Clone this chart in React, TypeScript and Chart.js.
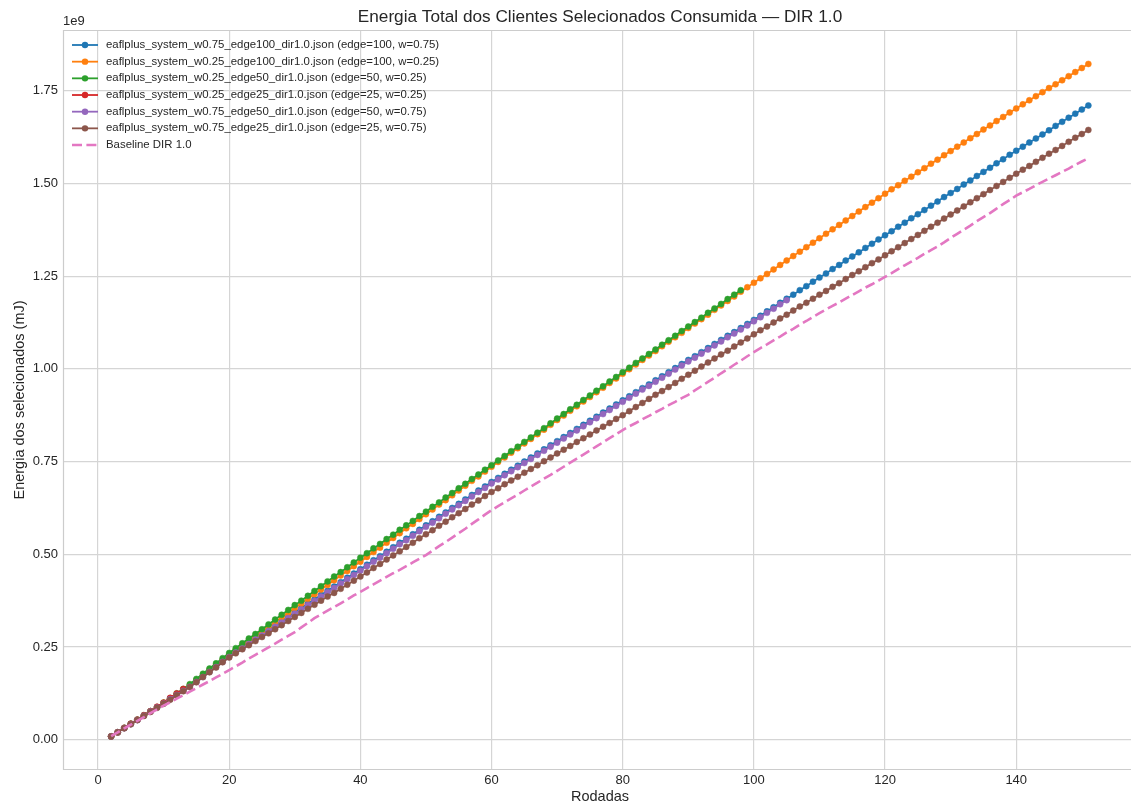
import React, { useEffect, useRef } from "react";
import { Chart, registerables } from "chart.js";

Chart.register(...registerables);

// ---------------- data (energy in units of 1e9 mJ) ----------------
const FIRST_ROUND = 2;

const X_TICKS = [0, 20, 40, 60, 80, 100, 120, 140];
const Y_TICKS = [0, 0.25, 0.5, 0.75, 1.0, 1.25, 1.5, 1.75];

const TITLE = "Energia Total dos Clientes Selecionados Consumida — DIR 1.0";
const X_LABEL = "Rodadas";
const Y_LABEL = "Energia dos selecionados (mJ)";
const OFFSET_LABEL = "1e9";

const SERIES_NAMES = [
  "eaflplus_system_w0.75_edge100_dir1.0.json (edge=100, w=0.75)",
  "eaflplus_system_w0.25_edge100_dir1.0.json (edge=100, w=0.25)",
  "eaflplus_system_w0.25_edge50_dir1.0.json (edge=50, w=0.25)",
  "eaflplus_system_w0.25_edge25_dir1.0.json (edge=25, w=0.25)",
  "eaflplus_system_w0.75_edge50_dir1.0.json (edge=50, w=0.75)",
  "eaflplus_system_w0.75_edge25_dir1.0.json (edge=25, w=0.75)",
  "Baseline DIR 1.0",
];

// w0.75 edge100 (rounds 2..151)
const w075_edge100 = [
  0.009, 0.020, 0.032, 0.043, 0.054, 0.066, 0.077, 0.088, 0.099,
  0.111, 0.122, 0.134, 0.146, 0.160, 0.173, 0.187, 0.200, 0.214, 0.227,
  0.239, 0.250, 0.262, 0.274, 0.285, 0.297, 0.309, 0.320, 0.332, 0.344,
  0.355, 0.367, 0.378, 0.390, 0.402, 0.413, 0.425, 0.437, 0.448, 0.460,
  0.472, 0.484, 0.495, 0.507, 0.519, 0.531, 0.542, 0.554, 0.566, 0.578,
  0.589, 0.601, 0.613, 0.625, 0.636, 0.648, 0.660, 0.672, 0.683, 0.695,
  0.706, 0.717, 0.728, 0.739, 0.750, 0.761, 0.772, 0.783, 0.794, 0.805,
  0.816, 0.827, 0.838, 0.849, 0.860, 0.871, 0.882, 0.893, 0.904, 0.915,
  0.926, 0.937, 0.948, 0.958, 0.969, 0.980, 0.991, 1.002, 1.013, 1.024,
  1.034, 1.045, 1.056, 1.067, 1.078, 1.089, 1.099, 1.110, 1.121, 1.132,
  1.143, 1.155, 1.166, 1.178, 1.189, 1.200, 1.212, 1.223, 1.235, 1.246,
  1.257, 1.269, 1.280, 1.292, 1.303, 1.314, 1.326, 1.337, 1.349, 1.360,
  1.371, 1.383, 1.394, 1.406, 1.417, 1.428, 1.440, 1.451, 1.463, 1.474,
  1.485, 1.497, 1.508, 1.520, 1.531, 1.542, 1.554, 1.565, 1.577, 1.588,
  1.599, 1.610, 1.621, 1.632, 1.643, 1.655, 1.666, 1.677, 1.688, 1.699, 1.710,
];

// w0.25 edge100 (rounds 2..151)
const w025_edge100 = [
  0.009, 0.020, 0.032, 0.043, 0.054, 0.066, 0.077, 0.088, 0.100,
  0.111, 0.123, 0.135, 0.148, 0.161, 0.175, 0.188, 0.202, 0.215, 0.229,
  0.242, 0.254, 0.267, 0.279, 0.292, 0.304, 0.317, 0.330, 0.342, 0.355,
  0.367, 0.380, 0.392, 0.405, 0.417, 0.430, 0.443, 0.455, 0.468, 0.480,
  0.493, 0.506, 0.518, 0.531, 0.544, 0.557, 0.570, 0.582, 0.595, 0.608,
  0.621, 0.634, 0.646, 0.659, 0.672, 0.685, 0.698, 0.710, 0.723, 0.736,
  0.749, 0.761, 0.774, 0.786, 0.799, 0.811, 0.824, 0.836, 0.849, 0.862,
  0.874, 0.887, 0.899, 0.912, 0.924, 0.937, 0.949, 0.962, 0.974, 0.987,
  0.999, 1.012, 1.024, 1.036, 1.048, 1.061, 1.073, 1.085, 1.097, 1.110,
  1.122, 1.134, 1.146, 1.159, 1.171, 1.183, 1.195, 1.208, 1.220, 1.232,
  1.244, 1.256, 1.268, 1.280, 1.292, 1.304, 1.316, 1.328, 1.340, 1.352,
  1.364, 1.376, 1.388, 1.400, 1.412, 1.424, 1.436, 1.448, 1.460, 1.472,
  1.484, 1.495, 1.507, 1.518, 1.530, 1.541, 1.553, 1.564, 1.576, 1.587,
  1.599, 1.610, 1.622, 1.633, 1.645, 1.656, 1.668, 1.679, 1.691, 1.702,
  1.713, 1.724, 1.735, 1.746, 1.757, 1.767, 1.778, 1.789, 1.800, 1.811, 1.822,
];

// w0.25 edge50 (rounds 2..98)
const w025_edge50 = [
  0.009, 0.020, 0.032, 0.043, 0.054, 0.066, 0.077, 0.088, 0.100,
  0.112, 0.125, 0.137, 0.150, 0.164, 0.178, 0.192, 0.206, 0.220, 0.234,
  0.247, 0.260, 0.273, 0.285, 0.298, 0.311, 0.324, 0.337, 0.350, 0.363,
  0.375, 0.388, 0.401, 0.414, 0.427, 0.440, 0.452, 0.465, 0.478, 0.491,
  0.503, 0.516, 0.528, 0.541, 0.553, 0.566, 0.578, 0.590, 0.603, 0.615,
  0.628, 0.640, 0.653, 0.665, 0.678, 0.690, 0.703, 0.715, 0.728, 0.740,
  0.753, 0.765, 0.778, 0.790, 0.803, 0.815, 0.828, 0.840, 0.853, 0.866,
  0.878, 0.891, 0.903, 0.916, 0.928, 0.941, 0.953, 0.966, 0.978, 0.991,
  1.003, 1.016, 1.028, 1.040, 1.052, 1.065, 1.077, 1.089, 1.102, 1.114,
  1.126, 1.138, 1.151, 1.163, 1.175, 1.188, 1.200, 1.212,
];

// w0.25 edge25 (rounds 2..13)
const w025_edge25 = [
  0.009, 0.020, 0.032, 0.043, 0.054, 0.066, 0.077, 0.089, 0.100,
  0.113, 0.125, 0.137,
];

// w0.75 edge50 (rounds 2..105)
const w075_edge50 = [
  0.009, 0.020, 0.031, 0.042, 0.053, 0.065, 0.076, 0.087, 0.098,
  0.110, 0.121, 0.132, 0.143, 0.156, 0.169, 0.183, 0.196, 0.210, 0.223,
  0.235, 0.246, 0.258, 0.270, 0.281, 0.293, 0.305, 0.316, 0.328, 0.340,
  0.351, 0.363, 0.374, 0.386, 0.398, 0.409, 0.421, 0.433, 0.444, 0.456,
  0.468, 0.480, 0.491, 0.503, 0.515, 0.527, 0.538, 0.550, 0.562, 0.574,
  0.585, 0.597, 0.609, 0.621, 0.632, 0.644, 0.656, 0.668, 0.679, 0.691,
  0.702, 0.713, 0.724, 0.735, 0.746, 0.757, 0.768, 0.779, 0.790, 0.801,
  0.812, 0.823, 0.834, 0.845, 0.856, 0.867, 0.878, 0.889, 0.900, 0.911,
  0.922, 0.933, 0.944, 0.954, 0.965, 0.976, 0.987, 0.998, 1.009, 1.020,
  1.030, 1.041, 1.052, 1.063, 1.074, 1.085, 1.095, 1.106, 1.117, 1.128,
  1.139, 1.151, 1.162, 1.174, 1.185,
];

// w0.75 edge25 (rounds 2..151)
const w075_edge25 = [
  0.009, 0.020, 0.031, 0.042, 0.053, 0.064, 0.075, 0.086, 0.097,
  0.108, 0.120, 0.131, 0.142, 0.155, 0.169, 0.182, 0.195, 0.209, 0.222,
  0.233, 0.244, 0.255, 0.266, 0.277, 0.287, 0.298, 0.309, 0.320, 0.331,
  0.342, 0.353, 0.364, 0.375, 0.386, 0.396, 0.407, 0.418, 0.429, 0.440,
  0.451, 0.463, 0.474, 0.486, 0.497, 0.508, 0.520, 0.531, 0.543, 0.554,
  0.565, 0.577, 0.588, 0.600, 0.611, 0.622, 0.634, 0.645, 0.657, 0.668,
  0.678, 0.689, 0.699, 0.709, 0.720, 0.730, 0.740, 0.751, 0.761, 0.772,
  0.782, 0.792, 0.803, 0.813, 0.823, 0.834, 0.844, 0.854, 0.865, 0.875,
  0.886, 0.897, 0.908, 0.919, 0.930, 0.940, 0.951, 0.962, 0.973, 0.984,
  0.995, 1.006, 1.017, 1.028, 1.039, 1.049, 1.060, 1.071, 1.082, 1.093,
  1.104, 1.114, 1.125, 1.136, 1.146, 1.157, 1.168, 1.178, 1.189, 1.200,
  1.210, 1.221, 1.231, 1.242, 1.253, 1.263, 1.274, 1.285, 1.295, 1.306,
  1.317, 1.328, 1.339, 1.350, 1.361, 1.372, 1.383, 1.394, 1.405, 1.416,
  1.427, 1.438, 1.449, 1.460, 1.471, 1.482, 1.493, 1.504, 1.515, 1.526,
  1.537, 1.547, 1.558, 1.569, 1.580, 1.590, 1.601, 1.612, 1.623, 1.633, 1.644,
];

// Baseline DIR 1.0 (rounds 2..151)
const baseline_dir10 = [
  0.010, 0.020, 0.031, 0.041, 0.051, 0.061, 0.072, 0.082, 0.092,
  0.101, 0.111, 0.120, 0.130, 0.139, 0.149, 0.158, 0.168, 0.178, 0.188,
  0.198, 0.208, 0.219, 0.229, 0.239, 0.249, 0.259, 0.270, 0.280, 0.290,
  0.303, 0.315, 0.328, 0.338, 0.348, 0.358, 0.368, 0.378, 0.389, 0.399,
  0.409, 0.419, 0.429, 0.439, 0.449, 0.458, 0.468, 0.478, 0.488, 0.498,
  0.510, 0.522, 0.533, 0.545, 0.557, 0.569, 0.582, 0.594, 0.607, 0.619,
  0.630, 0.640, 0.651, 0.661, 0.672, 0.683, 0.693, 0.704, 0.714, 0.725,
  0.736, 0.747, 0.758, 0.769, 0.780, 0.791, 0.802, 0.813, 0.824, 0.835,
  0.845, 0.854, 0.864, 0.873, 0.883, 0.892, 0.902, 0.911, 0.921, 0.930,
  0.942, 0.953, 0.965, 0.976, 0.988, 0.999, 1.011, 1.022, 1.034, 1.045,
  1.056, 1.066, 1.077, 1.087, 1.098, 1.108, 1.119, 1.129, 1.140, 1.150,
  1.160, 1.170, 1.179, 1.189, 1.199, 1.209, 1.219, 1.228, 1.238, 1.248,
  1.258, 1.269, 1.279, 1.289, 1.299, 1.310, 1.320, 1.330, 1.341, 1.353,
  1.364, 1.375, 1.386, 1.398, 1.409, 1.420, 1.432, 1.444, 1.455, 1.467,
  1.476, 1.485, 1.495, 1.504, 1.513, 1.522, 1.531, 1.540, 1.550, 1.559, 1.568,
];

const SERIES_VALUES = [
  w075_edge100,
  w025_edge100,
  w025_edge50,
  w025_edge25,
  w075_edge50,
  w075_edge25,
  baseline_dir10,
];

const COLORS = ["#1f77b4", "#ff7f0e", "#2ca02c", "#d62728", "#9467bd", "#8c564b", "#e377c2"];

// ---------------- style ----------------
const W = 1131;
const H = 808;
const FONT = "'Liberation Sans', Arial, sans-serif";
const TEXT = "#262626";
const GRID = "#d5d5d5";
const BASE_DASH = [10, 4.4];

const toPoints = (vals: number[]) => vals.map((v, i) => ({ x: FIRST_ROUND + i, y: v }));

const overlayPlugin = {
  id: "overlay",
  afterDraw(chart: any) {
    const ctx = chart.ctx as CanvasRenderingContext2D;
    const a = chart.chartArea;
    ctx.save();
    // frame (left, top, bottom; the right spine lies past the figure edge)
    ctx.strokeStyle = "#cccccc";
    ctx.lineWidth = 1.2;
    ctx.beginPath();
    ctx.moveTo(a.right + 2, a.top + 0.5);
    ctx.lineTo(a.left + 0.5, a.top + 0.5);
    ctx.lineTo(a.left + 0.5, a.bottom - 0.5);
    ctx.lineTo(a.right + 2, a.bottom - 0.5);
    ctx.stroke();

    // title
    ctx.fillStyle = TEXT;
    ctx.textAlign = "center";
    ctx.textBaseline = "middle";
    ctx.font = `17.2px ${FONT}`;
    ctx.fillText(TITLE, 600, 17);

    // x label
    ctx.font = `14.5px ${FONT}`;
    ctx.fillText(X_LABEL, 600, 797);

    // y label
    ctx.save();
    ctx.translate(20, (a.top + a.bottom) / 2);
    ctx.rotate(-Math.PI / 2);
    ctx.fillText(Y_LABEL, 0, 0);
    ctx.restore();

    // offset text
    ctx.font = `13px ${FONT}`;
    ctx.textAlign = "left";
    ctx.fillText(OFFSET_LABEL, a.left, 21);

    // legend
    const x0 = a.left + 9;
    const lineLen = 26;
    const rowH = 16.67;
    ctx.font = `11.4px ${FONT}`;
    ctx.textBaseline = "middle";
    SERIES_NAMES.forEach((name, i) => {
      const y = a.top + 15 + i * rowH;
      const c = COLORS[i];
      const dashed = i === SERIES_NAMES.length - 1;
      ctx.strokeStyle = c;
      ctx.lineWidth = dashed ? 2.6 : 1.8;
      ctx.setLineDash(dashed ? BASE_DASH : []);
      ctx.beginPath();
      ctx.moveTo(x0, y);
      ctx.lineTo(x0 + lineLen, y);
      ctx.stroke();
      ctx.setLineDash([]);
      if (!dashed) {
        ctx.fillStyle = c;
        ctx.beginPath();
        ctx.arc(x0 + lineLen / 2, y, 3.2, 0, Math.PI * 2);
        ctx.fill();
      }
      ctx.fillStyle = TEXT;
      ctx.fillText(name, x0 + lineLen + 8, y);
    });
    ctx.restore();
  },
};

export default function App() {
  const ref = useRef<HTMLCanvasElement | null>(null);

  useEffect(() => {
    if (!ref.current) return;
    const n = SERIES_VALUES.length;
    const datasets = SERIES_VALUES.map((vals, i) => {
      const dashed = i === n - 1;
      return {
        label: SERIES_NAMES[i],
        data: toPoints(vals),
        borderColor: COLORS[i],
        backgroundColor: COLORS[i],
        borderWidth: dashed ? 2.6 : 1.8,
        borderDash: dashed ? BASE_DASH : [],
        pointRadius: dashed ? 0 : 3,
        pointBorderWidth: 0.5,
        pointBackgroundColor: COLORS[i],
        pointBorderColor: COLORS[i],
        fill: false,
        tension: 0,
        order: n - i,
      };
    });

    const chart = new Chart(ref.current, {
      type: "line",
      data: { datasets },
      plugins: [overlayPlugin],
      options: {
        responsive: false,
        animation: false,
        devicePixelRatio: 1,
        layout: { autoPadding: false, padding: { top: 30, right: 0, left: 0, bottom: 0 } },
        plugins: {
          legend: { display: false },
          title: { display: false },
          tooltip: { enabled: false },
        },
        scales: {
          x: {
            type: "linear",
            min: -5.34,
            max: 157.5,
            afterBuildTicks: (s: any) => {
              s.ticks = X_TICKS.map((v) => ({ value: v }));
            },
            afterFit: (s: any) => {
              s.height = 38;
            },
            grid: { color: GRID, lineWidth: 1.2, drawTicks: false },
            border: { display: false },
            ticks: {
              padding: 3,
              color: TEXT,
              font: { family: FONT, size: 13 },
              maxRotation: 0,
              callback: (v: any) => String(v),
            },
          },
          y: {
            type: "linear",
            min: -0.0815,
            max: 1.9135,
            afterBuildTicks: (s: any) => {
              s.ticks = Y_TICKS.map((v) => ({ value: v }));
            },
            afterFit: (s: any) => {
              s.width = 63;
            },
            grid: { color: GRID, lineWidth: 1.2, drawTicks: false },
            border: { display: false },
            ticks: {
              padding: 5,
              color: TEXT,
              font: { family: FONT, size: 13 },
              callback: (v: any) => Number(v).toFixed(2),
            },
          },
        },
      },
    });
    return () => chart.destroy();
  }, []);

  return (
    <div style={{ position: "absolute", left: 0, top: 0, width: W, height: H, background: "#ffffff" }}>
      <canvas ref={ref} width={W} height={H} style={{ width: W, height: H, display: "block" }} />
    </div>
  );
}
